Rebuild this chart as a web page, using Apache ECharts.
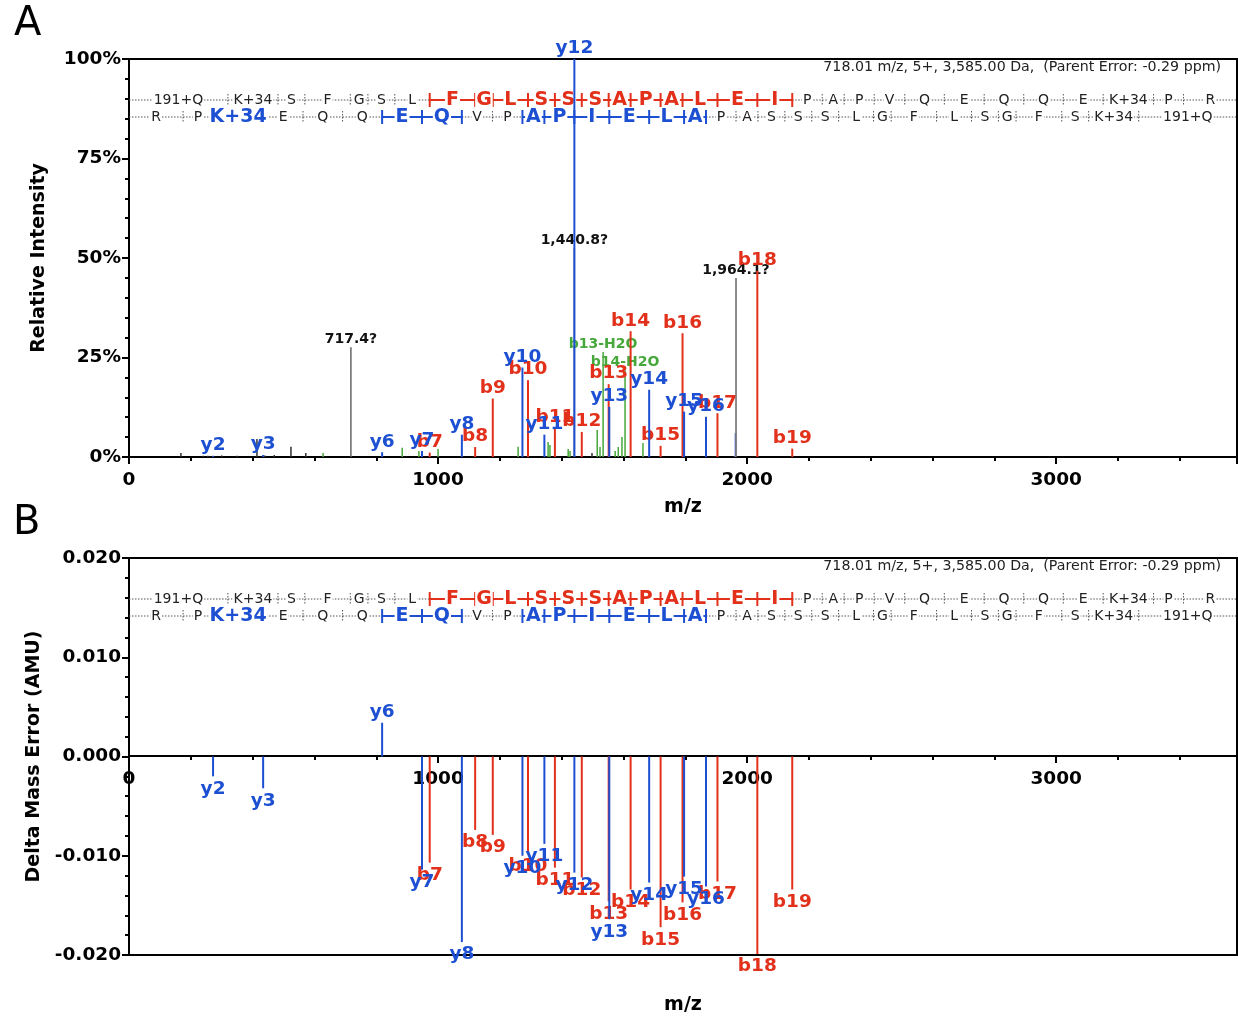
<!DOCTYPE html>
<html><head><meta charset="utf-8">
<script src="https://cdn.jsdelivr.net/npm/echarts@6/dist/echarts.min.js"></script>
<style>html,body{margin:0;padding:0;background:#fff}#c{width:1238px;height:1016px}</style>
</head><body><div id="c"></div>
<script>
// ---------------- DATA ----------------
const residues = ['191+Q','K+34','S','F','G','S','L','F','G','L','S','S','S','A','P','A','L','E','I','P','A','P','V','Q','E','Q','Q','E','K+34','P','R'];
// b1..b30 positions (m/z)
const bIonMz = [320, 482, 569, 716, 773, 860, 973, 1120, 1177, 1291, 1378, 1465, 1552, 1623, 1720, 1791, 1904, 2033, 2146, 2243, 2314, 2411, 2510, 2638, 2767, 2895, 3023, 3152, 3315, 3412];
// y1..y30 positions (m/z)
const yIonMz = [175, 272, 434, 563, 691, 819, 948, 1077, 1176, 1273, 1344, 1441, 1554, 1683, 1796, 1867, 1964, 2035, 2122, 2209, 2296, 2409, 2466, 2613, 2726, 2813, 2870, 3018, 3105, 3267];
const parentMass = 3585;
const parentInfo = '718.01 m/z, 5+, 3,585.00 Da,  (Parent Error: -0.29 ppm)';

const bLabels = ['b7','b8','b9','b10','b11','b12','b13','b14','b15','b16','b17','b18','b19'];
const bMz = [973, 1120, 1177, 1291, 1378, 1465, 1552, 1623, 1720, 1791, 1904, 2033, 2146];
const bIntensity = [1.1, 2.5, 14.7, 19.3, 7.4, 6.3, 18.3, 31.6, 2.8, 31.1, 11.0, 46.8, 2.1];
const bError = [-0.0107, -0.0074, -0.0079, -0.0098, -0.0112, -0.0122, -0.0146, -0.0134, -0.0172, -0.0147, -0.0126, -0.0199, -0.0134];

const yLabels = ['y2','y3','y6','y7','y8','y10','y11','y12','y13','y14','y15','y16'];
const yMz = [272, 434, 819, 948, 1077, 1273, 1344, 1441, 1554, 1683, 1796, 1867];
const yIntensity = [0.3, 0.5, 1.2, 1.5, 5.6, 22.5, 5.6, 100, 12.6, 16.9, 11.4, 10.1];
const yError = [-0.0020, -0.0032, 0.0034, -0.0114, -0.0187, -0.0100, -0.0088, -0.0117, -0.0164, -0.0127, -0.0121, -0.0131];

const lossLabels = ['b13-H2O','b14-H2O'];
const lossMz = [1534, 1605];
const lossIntensity = [26.4, 21.8];

const greenMz = [628, 884, 938, 1000, 1259, 1356, 1362, 1421, 1427, 1515, 1524, 1573, 1583, 1595, 1663];
const greenIntensity = [1.0, 2.3, 1.5, 2.0, 2.6, 3.8, 3.0, 2.0, 1.5, 6.8, 2.5, 1.5, 2.5, 5.0, 3.5];

const unknownLabels = ['717.4?','1,440.8?','1,964.1?'];
const unknownMz = [718, 1441, 1964];
const unknownIntensity = [27.6, 52.5, 45.0];

const otherMz = [168, 240, 255, 300, 350, 414, 440, 470, 524, 572, 1498];
const otherIntensity = [1.0, 0.3, 0.3, 0.4, 0.3, 4.5, 0.4, 0.5, 2.6, 1.0, 1.0];

const faintMz = [1962];
const faintIntensity = [6.0];

// ---------------- STYLE ----------------
const FONT = 'DejaVu Sans';
const RED = '#e2301b', BLUE = '#1c4fd2', GREEN = '#46a83a', FAINT = '#8fa8ec';
const DOT = '#555';

const bObserved = new Set(bLabels.map(s => parseInt(s.slice(1))));
const yObserved = new Set(yLabels.map(s => parseInt(s.slice(1))));

function buildRow(resList, bounds, observed, color, offset) {
  const items = [];
  for (let i = 0; i < resList.length; i++) {
    const start = i === 0 ? 0 : bounds[i - 1];
    const end = i === resList.length - 1 ? parentMass : bounds[i];
    const leftObs = i > 0 && observed.has(i);
    const rightObs = i < bounds.length && observed.has(i + 1);
    items.push({ start, end, text: resList[i], hasLeft: i > 0, leftObs, bold: leftObs && rightObs });
  }
  return { items, color, offset };
}
const rowB = buildRow(residues, bIonMz, bObserved, RED, 41);
const rowY = buildRow(residues.slice().reverse(), yIonMz, yObserved, BLUE, 58);

function annotationSeries(gridIdx, row, mode) {
  return {
    type: 'custom', xAxisIndex: gridIdx, yAxisIndex: gridIdx, silent: true, clip: false,
    z: mode === 'text' ? 3 : 2,
    encode: { x: [0, 1], y: 2 },
    data: row.items.map(it => [it.start, it.end, 0]),
    renderItem(params, api) {
      const it = row.items[params.dataIndex];
      const xs = api.coord([api.value(0), 0])[0];
      const xe = api.coord([api.value(1), 0])[0];
      const y = params.coordSys.y + row.offset;
      const ch = [];
      if (mode === 'line') {
        if (it.bold) ch.push({ type: 'line', shape: { x1: xs, y1: y, x2: xe, y2: y }, style: { stroke: row.color, lineWidth: 2 } });
        else ch.push({ type: 'line', shape: { x1: xs, y1: y, x2: xe, y2: y }, style: { stroke: DOT, lineWidth: 1, lineDash: [1.5, 1.5] } });
        if (it.hasLeft) {
          if (it.leftObs) ch.push({ type: 'line', shape: { x1: xs, y1: y - 7, x2: xs, y2: y + 7 }, style: { stroke: row.color, lineWidth: 2 } });
          else ch.push({ type: 'line', shape: { x1: xs, y1: y - 6, x2: xs, y2: y + 6 }, style: { stroke: DOT, lineWidth: 1, lineDash: [1.5, 1.5] } });
        }
      } else {
        ch.push({
          type: 'text', style: {
            text: it.text, x: (xs + xe) / 2, y: y, align: 'center', verticalAlign: 'middle',
            fill: it.bold ? row.color : '#222',
            font: it.bold ? `bold 19px "${FONT}"` : `14px "${FONT}"`,
            backgroundColor: '#fff', padding: [0, 1]
          }
        });
      }
      return { type: 'group', children: ch };
    }
  };
}

function stickSeries(gridIdx, mzs, vals, labels, color, lw, labelFont, z, labelColor) {
  return {
    type: 'custom', xAxisIndex: gridIdx, yAxisIndex: gridIdx, silent: true, clip: false, z: z,
    encode: { x: 0, y: 1 },
    data: mzs.map((m, i) => [m, vals[i]]),
    renderItem(params, api) {
      const m = api.value(0), v = api.value(1);
      const p0 = api.coord([m, 0]), p1 = api.coord([m, v]);
      const ch = [{ type: 'line', shape: { x1: p0[0], y1: p0[1], x2: p1[0], y2: p1[1] }, style: { stroke: color, lineWidth: lw } }];
      const lab = labels ? labels[params.dataIndex] : null;
      if (lab) {
        ch.push({
          type: 'text', z2: 10, style: {
            text: lab, x: p1[0], y: v >= 0 ? p1[1] - 1 : p1[1] + 3,
            align: 'center', verticalAlign: v >= 0 ? 'bottom' : 'top',
            fill: labelColor || color, font: labelFont
          }
        });
      }
      return { type: 'group', children: ch };
    }
  };
}

const labelFont = `bold 18.5px "${FONT}"`;
const axisLabelStyle = { color: '#000', fontFamily: FONT, fontWeight: 'bold', fontSize: 18.5 };
const nameStyle = { color: '#000', fontFamily: FONT, fontWeight: 'bold', fontSize: 19 };
const lineStyle = { color: '#000', width: 2 };

function xAxisBase(gridIdx, extra) {
  return Object.assign({
    type: 'value', gridIndex: gridIdx, min: 0, max: parentMass, interval: 1000, position: 'bottom',
    axisLine: { show: true, onZero: false, lineStyle },
    axisTick: { show: true, inside: false, length: 7, lineStyle: { color: '#000', width: 2 } },
    minorTick: { show: true, splitNumber: 5, length: 4, lineStyle: { color: '#000', width: 2 } },
    axisLabel: { ...axisLabelStyle, margin: 14, showMaxLabel: false, formatter: v => String(v) },
    splitLine: { show: false }, minorSplitLine: { show: false },
    name: 'm/z', nameLocation: 'middle', nameTextStyle: nameStyle
  }, extra || {});
}

const option = {
  backgroundColor: '#fff',
  animation: false,
  title: [
    { text: 'A', left: 9, top: 0, textStyle: { fontFamily: FONT, fontSize: 40, fontWeight: 'normal', color: '#000' } },
    { text: 'B', left: 8, top: 499, textStyle: { fontFamily: FONT, fontSize: 40, fontWeight: 'normal', color: '#000' } }
  ],
  graphic: [
    { type: 'text', right: 17, top: 60, style: { text: parentInfo, font: `14.2px "${FONT}"`, fill: '#222' }, z: 10 },
    { type: 'text', right: 17, top: 559, style: { text: parentInfo, font: `14.2px "${FONT}"`, fill: '#222' }, z: 10 }
  ],
  grid: [
    { left: 129, right: 1, top: 59, height: 398, show: true, borderColor: '#000', borderWidth: 2, backgroundColor: 'transparent' },
    { left: 129, right: 1, top: 558, height: 398, show: true, borderColor: '#000', borderWidth: 2, backgroundColor: 'transparent' }
  ],
  xAxis: [
    xAxisBase(0, { nameGap: 41 }),
    // panel B: axis drawn at the zero line (grid centre), name kept below the grid
    xAxisBase(1, { offset: -199, nameGap: 41 + 199 })
  ],
  yAxis: [
    { type: 'value', gridIndex: 0, min: 0, max: 100, interval: 25,
      axisLine: { show: true, lineStyle },
      axisTick: { show: true, length: 7, lineStyle: { color: '#000', width: 2 } },
      minorTick: { show: true, splitNumber: 5, length: 4, lineStyle: { color: '#000', width: 2 } },
      axisLabel: { ...axisLabelStyle, margin: 8, formatter: v => v + '%' },
      splitLine: { show: false }, minorSplitLine: { show: false },
      name: 'Relative Intensity', nameLocation: 'middle', nameGap: 80, nameTextStyle: nameStyle },
    { type: 'value', gridIndex: 1, min: -0.02, max: 0.02, interval: 0.01,
      axisLine: { show: true, onZero: false, lineStyle },
      axisTick: { show: true, length: 7, lineStyle: { color: '#000', width: 2 } },
      minorTick: { show: true, splitNumber: 5, length: 4, lineStyle: { color: '#000', width: 2 } },
      axisLabel: { ...axisLabelStyle, margin: 8, formatter: v => (Math.abs(v) < 1e-9 ? 0 : v).toFixed(3) },
      splitLine: { show: false }, minorSplitLine: { show: false },
      name: 'Delta Mass Error (AMU)', nameLocation: 'middle', nameGap: 80, nameTextStyle: nameStyle }
  ],
  series: [
    annotationSeries(0, rowB, 'line'), annotationSeries(0, rowY, 'line'),
    annotationSeries(0, rowB, 'text'), annotationSeries(0, rowY, 'text'),
    annotationSeries(1, rowB, 'line'), annotationSeries(1, rowY, 'line'),
    annotationSeries(1, rowB, 'text'), annotationSeries(1, rowY, 'text'),
    // Panel A
    stickSeries(0, otherMz, otherIntensity, null, '#333', 1.5, labelFont, 4),
    stickSeries(0, greenMz, greenIntensity, null, GREEN, 1.5, labelFont, 4),
    stickSeries(0, faintMz, faintIntensity, null, FAINT, 2, labelFont, 4),
    stickSeries(0, unknownMz, unknownIntensity, unknownLabels, '#666', 1.5, `bold 14px "${FONT}"`, 4, '#111'),
    stickSeries(0, lossMz, lossIntensity, lossLabels, GREEN, 1.5, `bold 14px "${FONT}"`, 5),
    stickSeries(0, bMz, bIntensity, bLabels, RED, 2, labelFont, 6),
    stickSeries(0, yMz, yIntensity, yLabels, BLUE, 2, labelFont, 7),
    // Panel B
    stickSeries(1, bMz, bError, bLabels, RED, 2, labelFont, 6),
    stickSeries(1, yMz, yError, yLabels, BLUE, 2, labelFont, 7)
  ]
};

const chart = echarts.init(document.getElementById('c'), null, { renderer: 'canvas' });
chart.setOption(option);
</script>
</body></html>
